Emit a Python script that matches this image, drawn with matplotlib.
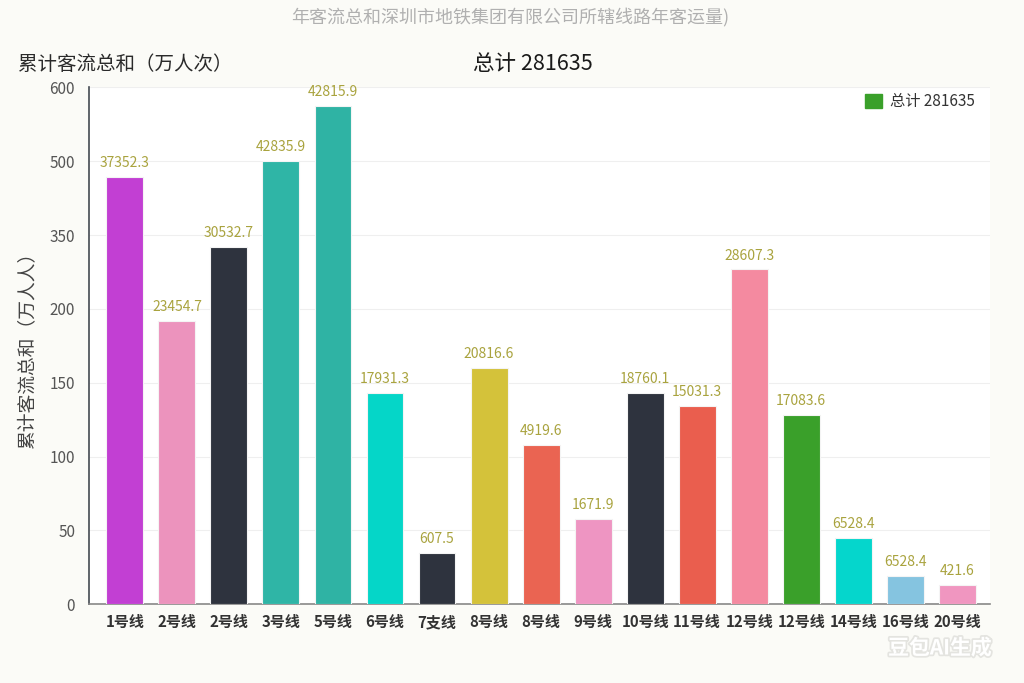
import numpy as np
import matplotlib
matplotlib.use("Agg")
import matplotlib.pyplot as plt
import matplotlib.patheffects as pe
from matplotlib.patches import Patch

plt.rcParams['font.family'] = ['Noto Sans CJK SC', 'DejaVu Sans']

categories = ["1号线", "2号线", "2号线", "3号线", "5号线", "6号线", "7支线", "8号线", "8号线",
              "9号线", "10号线", "11号线", "12号线", "12号线", "14号线", "16号线", "20号线"]
heights = [468, 192, 325, 500, 575, 143, 35, 160, 108, 58, 143, 134, 280, 128, 45, 19, 13]
value_labels = ["37352.3", "23454.7", "30532.7", "42835.9", "42815.9", "17931.3", "607.5",
                "20816.6", "4919.6", "1671.9", "18760.1", "15031.3", "28607.3", "17083.6",
                "6528.4", "6528.4", "421.6"]
colors = ["#c23fd3", "#ec93bd", "#2e333e", "#2fb5a6", "#2fb3a4", "#05d6c8", "#2e333e",
          "#d4c23a", "#ea6452", "#ee95c2", "#2e333e", "#ea5e4e", "#f48aa0", "#3aa02a",
          "#05d6cc", "#85c4e0", "#f096c0"]
ytick_labels = [0, 50, 100, 150, 200, 350, 500, 600]
legend_label = "总计 281635"
subtitle = "总计 281635"
top_title = "年客流总和深圳市地铁集团有限公司所辖线路年客运量)"
left_title = "累计客流总和（万人次）"
ylabel = "累计客流总和（万人人）"

tick_vals = np.array(ytick_labels, dtype=float)
tick_pos = np.arange(len(ytick_labels), dtype=float)

def fwd(v):
    return np.interp(v, tick_vals, tick_pos)

def inv(p):
    return np.interp(p, tick_pos, tick_vals)

fig = plt.figure(figsize=(10.24, 6.83), dpi=100)
fig.patch.set_facecolor("#fbfbf7")
ax = fig.add_axes([89/1024, 1-604.3/683, 901/1024, (604.3-87.3)/683])
ax.set_facecolor("#ffffff")
ax.set_yscale('function', functions=(fwd, inv))

x = np.arange(len(categories))
ax.bar(x, heights, width=0.71, color=colors, edgecolor="#f4f4f4", linewidth=0.8, zorder=3)
for xi, h, lab in zip(x, heights, value_labels):
    ax.annotate(lab, (xi, h), xytext=(0, 5), textcoords="offset points",
                ha="center", va="bottom", fontsize=10, color="#a9a33e", zorder=4)

ax.set_ylim(0, 600)
ax.set_xlim(-0.69, len(categories) - 1 + 0.63)
ax.set_yticks(ytick_labels)
ax.set_yticklabels([str(t) for t in ytick_labels], fontsize=11, color="#555555")
ax.set_xticks(x)
ax.set_xticklabels(categories, fontsize=10.8, fontweight="bold", color="#333333")
ax.tick_params(axis="x", length=0, pad=7)
ax.tick_params(axis="y", length=0, pad=10)
ax.grid(axis="y", color="#efefef", linewidth=0.8, zorder=0)
for s in ["top", "right"]:
    ax.spines[s].set_visible(False)
ax.spines["left"].set_color("#444a52")
ax.spines["left"].set_linewidth(1.2)
ax.spines["bottom"].set_color("#888888")
ax.spines["bottom"].set_linewidth(1.2)

ax.set_ylabel(ylabel, fontsize=13.5, color="#444444")
ax.yaxis.set_label_coords(-52/901, 0.5)

leg = ax.legend(handles=[Patch(color="#3aa02a", label=legend_label)], loc="upper right",
                bbox_to_anchor=(0.998, 1.015), frameon=False, fontsize=11, handlelength=1.1,
                handleheight=1.0, handletextpad=0.5)
for t in leg.get_texts():
    t.set_color("#333333")

fig.text(510/1024, 1-17/683, top_title, ha="center", va="center", fontsize=13, color="#b0b0b0")
fig.text(18/1024, 1-64/683, left_title, ha="left", va="center", fontsize=14, color="#2a2a2a")
fig.text(533/1024, 1-64/683, subtitle, ha="center", va="center", fontsize=15.5, color="#1a1a1a")
fig.text(940/1024, 1-648/683, "豆包AI生成", ha="center", va="center", fontsize=15,
         fontweight="bold", color="#ffffff",
         path_effects=[pe.withStroke(linewidth=2.5, foreground="#e4e4e0")])

fig.savefig("out.png", dpi=100, facecolor=fig.get_facecolor())
